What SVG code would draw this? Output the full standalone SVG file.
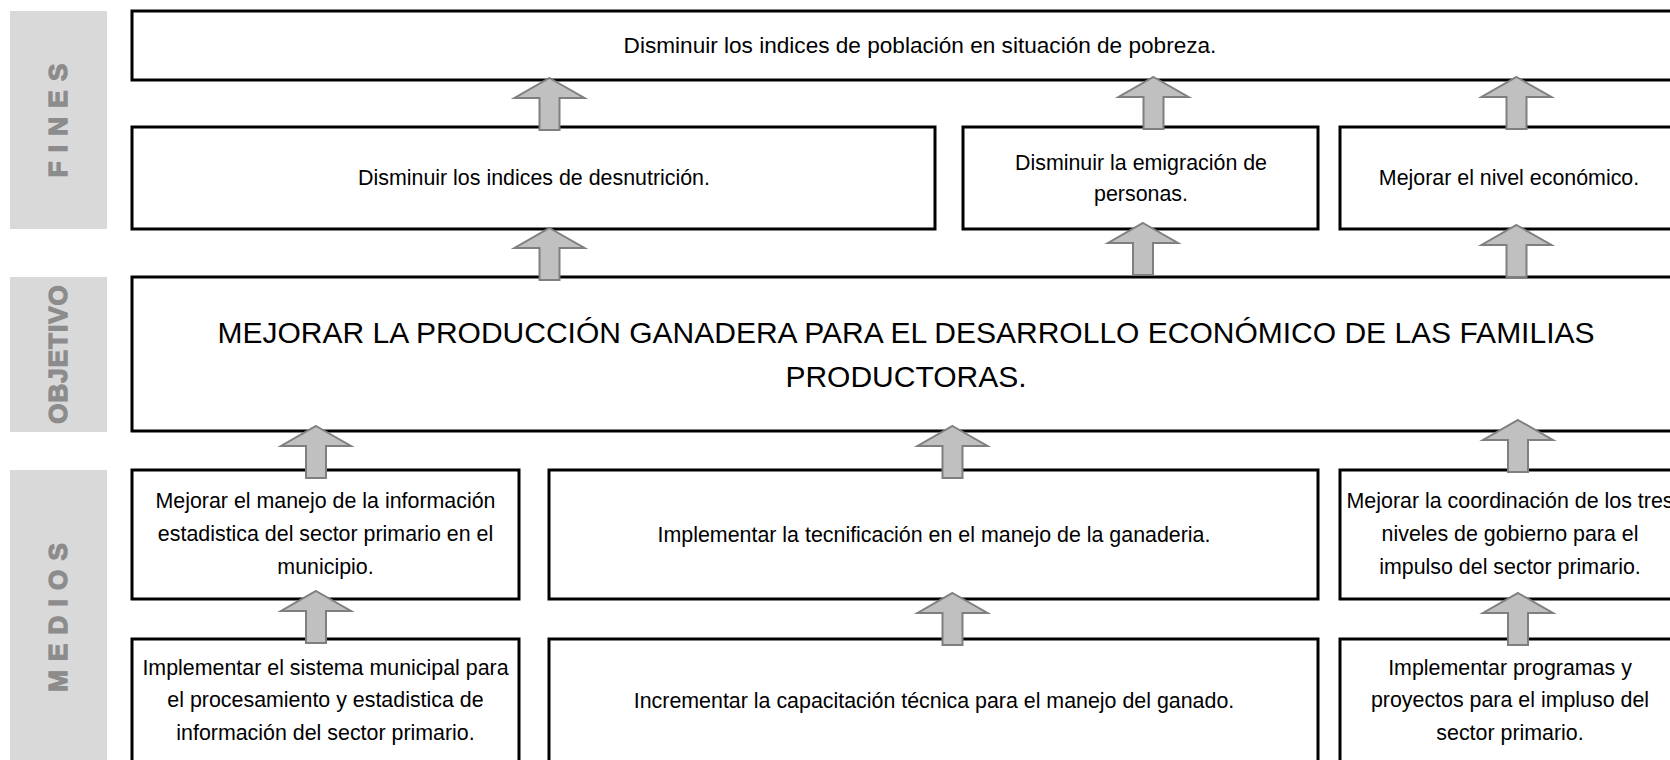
<svg xmlns="http://www.w3.org/2000/svg" width="1670" height="760" viewBox="0 0 1670 760">
<style>
.box{fill:#fff;stroke:#000;stroke-width:3}
.lab{fill:#d9d9d9}
.labt{font-family:"Liberation Sans",Arial,sans-serif;font-weight:bold;font-size:26px;fill:#8c8c8c;stroke:#8c8c8c;stroke-width:1.3;text-anchor:middle;letter-spacing:1px}
.t{font-family:"Liberation Sans",Arial,sans-serif;font-size:21.4px;fill:#000;text-anchor:middle}
.big{font-family:"Liberation Sans",Arial,sans-serif;font-size:30px;fill:#000;text-anchor:middle}
.arr{fill:#c0c0c0;stroke:#7f7f7f;stroke-width:2;stroke-linejoin:miter}
</style>
<defs>
<path id="up" class="arr" d="M0,0 L35,20 L10,20 L10,52 L-10,52 L-10,20 L-35,20 Z"/>
</defs>
<rect width="1670" height="760" fill="#fff"/>

<g id="lab-fines">
<rect class="lab" x="10" y="11" width="97" height="218"/>
<text class="labt" transform="rotate(-90 67 120)" x="67" y="120">F I N E S</text>
</g>
<g id="lab-objetivo">
<rect class="lab" x="10" y="277" width="97" height="155"/>
<text class="labt" transform="rotate(-90 67 354)" x="67" y="354">OBJETIVO</text>
</g>
<g id="lab-medios">
<rect class="lab" x="10" y="470" width="97" height="300"/>
<text class="labt" transform="rotate(-90 67 617)" x="67" y="617">M E D I O S</text>
</g>

<g id="fin-pobreza">
<rect class="box" x="132" y="11" width="1580" height="69"/>
<text class="t" x="920" y="53" style="font-size:22.6px">Disminuir los indices de población en situación de pobreza.</text>
</g>
<g id="fin-desnutricion">
<rect class="box" x="132" y="127" width="803" height="102"/>
<text class="t" x="534" y="185">Disminuir los indices de desnutrición.</text>
</g>
<g id="fin-emigracion">
<rect class="box" x="963" y="127" width="355" height="102"/>
<text class="t" x="1141" y="170">Disminuir la emigración de</text>
<text class="t" x="1141" y="201">personas.</text>
</g>
<g id="fin-economico">
<rect class="box" x="1340" y="127" width="340" height="102"/>
<text class="t" x="1509" y="185">Mejorar el nivel económico.</text>
</g>

<g id="objetivo">
<rect class="box" x="132" y="277" width="1548" height="154"/>
<text class="big" x="906" y="343">MEJORAR LA PRODUCCIÓN GANADERA PARA EL DESARROLLO ECONÓMICO DE LAS FAMILIAS</text>
<text class="big" x="906" y="387">PRODUCTORAS.</text>
</g>

<g id="medio-informacion">
<rect class="box" x="132" y="470" width="387" height="129"/>
<text class="t" x="325.5" y="508">Mejorar el manejo de la información</text>
<text class="t" x="325.5" y="541">estadistica del sector primario en el</text>
<text class="t" x="325.5" y="574">municipio.</text>
</g>
<g id="medio-tecnificacion">
<rect class="box" x="549" y="470" width="769" height="129"/>
<text class="t" x="934" y="542">Implementar la tecnificación en el manejo de la ganaderia.</text>
</g>
<g id="medio-coordinacion">
<rect class="box" x="1340" y="470" width="340" height="129"/>
<text class="t" x="1510" y="508">Mejorar la coordinación de los tres</text>
<text class="t" x="1510" y="541">niveles de gobierno para el</text>
<text class="t" x="1510" y="574">impulso del sector primario.</text>
</g>

<g id="medio-sistema">
<rect class="box" x="132" y="639" width="387" height="140"/>
<text class="t" x="325.5" y="675">Implementar el sistema municipal para</text>
<text class="t" x="325.5" y="707">el procesamiento y estadistica de</text>
<text class="t" x="325.5" y="740">información del sector primario.</text>
</g>
<g id="medio-capacitacion">
<rect class="box" x="549" y="639" width="769" height="140"/>
<text class="t" x="934" y="708">Incrementar la capacitación técnica para el manejo del ganado.</text>
</g>
<g id="medio-programas">
<rect class="box" x="1340" y="639" width="340" height="140"/>
<text class="t" x="1510" y="675">Implementar programas y</text>
<text class="t" x="1510" y="707">proyectos para el impluso del</text>
<text class="t" x="1510" y="740">sector primario.</text>
</g>

<g id="connectors">
<use href="#up" x="549.5" y="78"/>
<use href="#up" x="1153.5" y="77"/>
<use href="#up" x="1516.5" y="77"/>
<use href="#up" x="549.5" y="228"/>
<use href="#up" x="1143" y="223"/>
<use href="#up" x="1516.5" y="225"/>
<use href="#up" x="316" y="426"/>
<use href="#up" x="952.5" y="426"/>
<use href="#up" x="1518" y="420"/>
<use href="#up" x="316" y="591"/>
<use href="#up" x="952.5" y="593"/>
<use href="#up" x="1518" y="593"/>
</g>
</svg>
